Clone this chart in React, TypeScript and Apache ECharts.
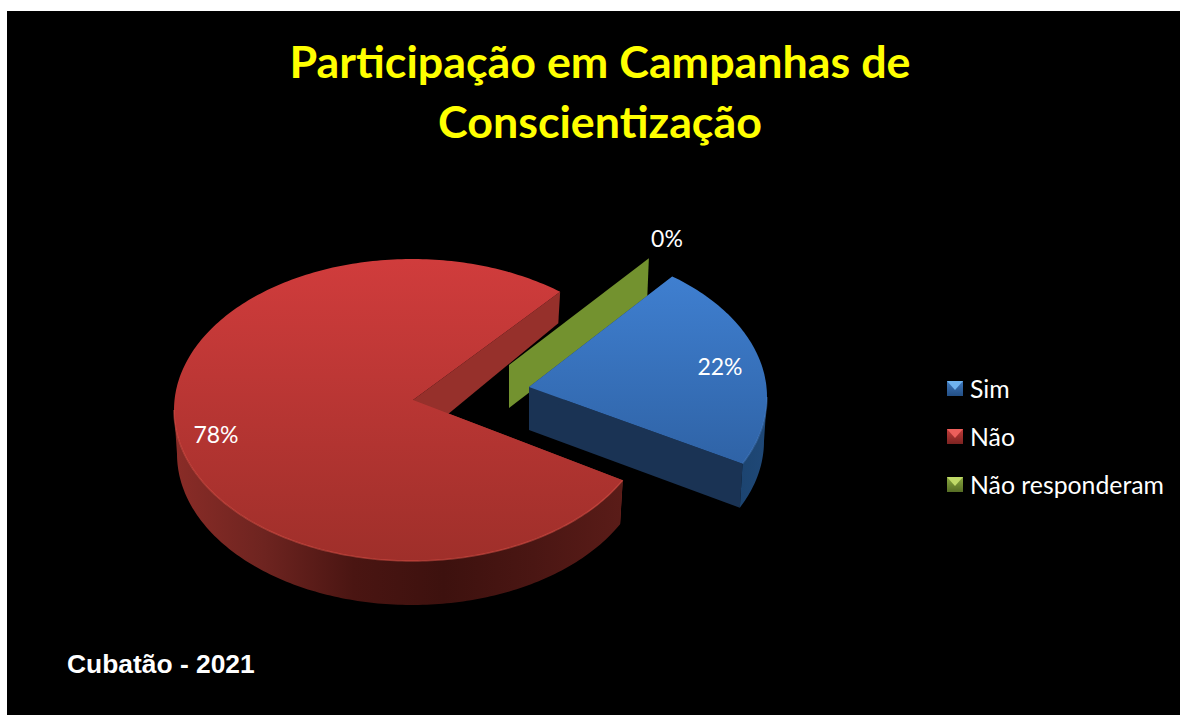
import React, { useEffect, useRef } from "react";
import * as echarts from "echarts";

const categories = ["Sim", "Não", "Não responderam"];
const values = [22, 78, 0];
const chartTitle = "Participação em Campanhas de\nConscientização";
const footnote = "Cubatão - 2021";

const START_ANGLE = 37.5;
const RX = 238;
const RY = 151;
const BOTTOM_RX = 235;
const BOTTOM_RY_FRONT = 151;
const DEPTH = 44;

const layout = [
  { cx: 529, cy: 397, apexDx: 0, apexDy: -10, turn: -0.5, backRy: 167, labelX: 720, labelY: 366 },
  { cx: 412, cy: 410, apexDx: 1, apexDy: -10, turn: 1, backRy: 167, labelX: 216, labelY: 434 },
  { cx: 504, cy: 378, apexDx: 5, apexDy: -13, turn: 0, backRy: 151, labelX: 667, labelY: 238 },
];

const palette = [
  { top: ["#3f7fd0", "#2f63a6"], wall: ["#1c4470", "#1f4877"], face: "#1a3354", rim: "rgba(90,150,225,0.35)" },
  { top: ["#d03c3c", "#9f2f2a"], wall: ["#8a2c27", "#6e2420", "#4a1512", "#3d110e", "#4a1613", "#5a1c18"], face: "#96302b", rim: "rgba(225,85,75,0.5)" },
  { top: ["#73922f", "#73922f"], wall: ["#73922f", "#73922f"], face: "#73922f", rim: "none" },
];

const legendSwatch = [
  { light: "#6fb2ee", body: ["#3f78bd", "#234f85"] },
  { light: "#ec5f5b", body: ["#c13c3a", "#7c2321"] },
  { light: "#c0da68", body: ["#8aa93f", "#566d25"] },
];

const total = values.reduce((a, b) => a + b, 0);
const spans: number[][] = [];
{
  let acc = START_ANGLE;
  values.forEach((v, i) => {
    const sweep = (v / total) * 360;
    spans.push([acc + layout[i].turn, acc + sweep + layout[i].turn]);
    acc += sweep;
  });
  // the empty slice sits on the seam where the first slice begins
  spans[2] = [START_ANGLE, START_ANGLE];
}

const rad = (d: number) => (d * Math.PI) / 180;
const topPt = (i: number, t: number) => [
  layout[i].cx + RX * Math.sin(rad(t)),
  layout[i].cy - RY * Math.cos(rad(t)),
];
const botPt = (i: number, t: number) => {
  const c = Math.cos(rad(t));
  const ry = c > 0 ? layout[i].backRy : BOTTOM_RY_FRONT;
  return [layout[i].cx + BOTTOM_RX * Math.sin(rad(t)), layout[i].cy + DEPTH - ry * c];
};
const sample = (a: number, b: number, f: (t: number) => number[]) => {
  const pts: number[][] = [];
  const n = Math.max(1, Math.ceil(Math.abs(b - a)));
  for (let k = 0; k <= n; k++) pts.push(f(a + ((b - a) * k) / n));
  return pts;
};
const grad = (cols: string[], horizontal: boolean) =>
  new echarts.graphic.LinearGradient(
    0,
    0,
    horizontal ? 1 : 0,
    horizontal ? 0 : 1,
    cols.map((color, k) => ({ offset: k / Math.max(1, cols.length - 1), color }))
  );

function renderSlice(i: number) {
  const [a, b] = spans[i];
  const L = layout[i];
  const P = palette[i];
  const apex = [L.cx + L.apexDx, L.cy + L.apexDy];
  const apexB = [apex[0], apex[1] + DEPTH - 1];
  const children: any[] = [];
  const quad = (t: number) => ({
    type: "polygon",
    shape: { points: [apex, topPt(i, t), botPt(i, t), apexB] },
    style: { fill: P.face },
  });
  children.push(quad(b));
  if (a !== b) {
    children.push(quad(a));
    // curved outer wall: only the part that faces the viewer
    const w0 = Math.max(a, 90);
    const w1 = Math.min(b, 270);
    if (w1 > w0) {
      children.push({
        type: "polygon",
        shape: {
          points: [
            ...sample(w0, w1, (t) => topPt(i, t)),
            ...sample(w1, w0, (t) => botPt(i, t)),
          ],
        },
        style: { fill: grad(P.wall, true) },
      });
    }
    children.push({
      type: "polygon",
      shape: { points: [apex, ...sample(a, b, (t) => topPt(i, t))] },
      style: { fill: grad(P.top, false) },
    });
    children.push({
      type: "polyline",
      shape: { points: sample(w0, w1, (t) => topPt(i, t)) },
      style: { fill: "none", stroke: P.rim, lineWidth: 1.5 },
    });
  }
  children.push({
    type: "text",
    style: {
      text: `${Math.round((values[i] / total) * 100)}%`,
      x: L.labelX,
      y: L.labelY,
      align: "center",
      verticalAlign: "middle",
      fill: "#ffffff",
      fontFamily: "Lato",
      fontSize: 23,
    },
  });
  return { type: "group", children };
}

const SWATCH_X = 947;
const SWATCH_Y = [381, 429, 477];
const SWATCH_W = 16;
const SWATCH_H = 15;

export default function App() {
  const ref = useRef<HTMLDivElement>(null);
  useEffect(() => {
    document.body.style.margin = "0";
    document.body.style.background = "#ffffff";
    const chart = echarts.init(ref.current!, undefined, { renderer: "svg" });
    const drawOrder = [1, 2, 0];
    chart.setOption({
      animation: false,
      backgroundColor: "#ffffff",
      title: [
        {
          text: chartTitle,
          left: 600,
          top: 31,
          padding: 0,
          textAlign: "center",
          textStyle: {
            color: "#ffff00",
            fontFamily: "Lato",
            fontWeight: "bold",
            fontSize: 44.8,
            lineHeight: 60,
          },
        },
        {
          text: footnote,
          left: 67,
          top: 651,
          padding: 0,
          textStyle: {
            color: "#ffffff",
            fontFamily: "Liberation Sans",
            fontWeight: "bold",
            fontSize: 26.4,
          },
        },
      ],
      legend: {
        orient: "vertical",
        left: SWATCH_X,
        top: 376,
        padding: 0,
        itemWidth: SWATCH_W,
        itemHeight: SWATCH_H,
        itemGap: 23,
        selectedMode: false,
        data: categories.map((name, i) => ({
          name,
          icon: "rect",
          itemStyle: { color: grad(legendSwatch[i].body, false), borderWidth: 0 },
        })),
        textStyle: { color: "#ffffff", fontFamily: "Lato", fontSize: 24.8, padding: [0, 0, 0, 2] },
      },
      graphic: [
        {
          type: "rect",
          z: -10,
          silent: true,
          shape: { x: 7, y: 11, width: 1173, height: 704 },
          style: { fill: "#000000" },
        },
        ...categories.map((_, i) => ({
          type: "polygon",
          z: 100,
          silent: true,
          shape: {
            points: [
              [SWATCH_X, SWATCH_Y[i]],
              [SWATCH_X + SWATCH_W, SWATCH_Y[i]],
              [SWATCH_X + SWATCH_W / 2, SWATCH_Y[i] + 9],
            ],
          },
          style: { fill: legendSwatch[i].light },
        })),
      ],
      series: drawOrder.map((i) => ({
        type: "custom",
        name: categories[i],
        coordinateSystem: "none",
        data: [values[i]],
        itemStyle: { color: palette[i].top[0] },
        renderItem: () => renderSlice(i),
        silent: true,
      })),
    });
    return () => chart.dispose();
  }, []);
  return <div ref={ref} style={{ width: 1180, height: 715 }} />;
}
